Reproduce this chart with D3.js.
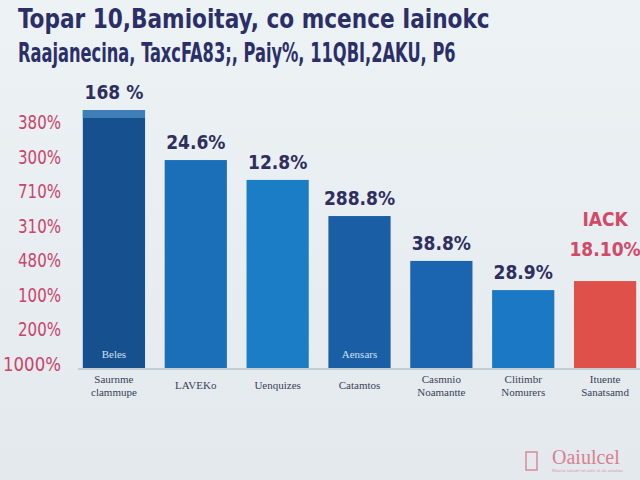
<!DOCTYPE html>
<html>
<head>
<meta charset="utf-8">
<script src="https://cdn.jsdelivr.net/npm/d3@7"></script>
<style>
  body { margin: 0; padding: 0; overflow: hidden; }
  svg { display: block; }
</style>
</head>
<body>
<div id="chart"></div>
<script>
var chart_width = 640;
var chart_height = 480;

// Data
var title_lines = ['Topar 10,Bamioitay, co mcence Iainokc',
                   'Raajanecina, TaxcFA83;, Paiy%, 11QBI,2AKU, P6'];
var categories = ['Saurnme|clammupe', 'LAVEKo', 'Uenquizes', 'Catamtos',
                  'Casmnio|Noamantte', 'Clitimbr|Nomurers', 'Ituente|Sanatsamd'];
var values = [100, 80.6, 72.9, 58.9, 41.5, 30.2, 33.7];
var value_labels = ['168 %', '24.6%', '12.8%', '288.8%', '38.8%', '28.9%', 'IACK|18.10%'];
var inner_labels = ['Beles', '', '', 'Aensars', '', '', ''];
var tick_labels = ['380%', '300%', '710%', '310%', '480%', '100%', '200%', '1000%'];
var bar_colors = ['#17508f', '#1a6fb8', '#1b7dc6', '#1a5ea6', '#1b64b0', '#1b78c4', '#e0504a'];

var svg = d3.select('#chart')
            .append('svg')
            .attr('width', chart_width)
            .attr('height', chart_height);

//Background
var defs = svg.append('defs');
var grad = defs.append('linearGradient')
               .attr('id', 'bg')
               .attr('x1', 0).attr('y1', 0)
               .attr('x2', 0).attr('y2', 1);
grad.append('stop').attr('offset', '0%').attr('stop-color', '#edf2f5');
grad.append('stop').attr('offset', '100%').attr('stop-color', '#e3e9ed');

svg.append('rect')
   .attr('width', chart_width)
   .attr('height', chart_height)
   .attr('fill', 'url(#bg)');

//Title - squeezed horizontally to the reference width
var title_widths = [472, 438];
svg.selectAll('.title')
   .data(title_lines)
   .enter()
   .append('text')
   .attr('class', 'title')
   .attr('x', 0)
   .attr('y', 0)
   .attr('font-family', 'DejaVu Sans Condensed, sans-serif')
   .attr('font-weight', 'bold')
   .attr('font-size', 26)
   .attr('fill', '#2b2f68')
   .text((d) => d)
   .each(function (d, i) {
       var w = this.getComputedTextLength();
       var k = title_widths[i] / w;
       d3.select(this).attr('transform', 'translate(18,' + (28 + i * 34) + ') scale(' + k + ',1)');
   });

//Scales
var x_scale = d3.scaleBand()
                .domain(categories)
                .range([73, 646])
                .paddingInner(0.24)
                .paddingOuter(0.12);

var y_scale = d3.scaleLinear()
                .domain([0, 100])
                .range([368, 110]);

var tick_scale = d3.scalePoint()
                   .domain(tick_labels)
                   .range([122, 364]);

//Y labels
svg.selectAll('.ytick')
   .data(tick_labels)
   .enter()
   .append('text')
   .attr('class', 'ytick')
   .attr('x', 61)
   .attr('y', (d) => tick_scale(d) + 7)
   .attr('text-anchor', 'end')
   .attr('textLength', (d) => d.length > 4 ? 58 : 43)
   .attr('lengthAdjust', 'spacingAndGlyphs')
   .attr('font-family', 'DejaVu Sans Condensed, sans-serif')
   .attr('font-size', 19)
   .attr('fill', '#c8466a')
   .text((d) => d);

//Baseline
svg.append('line')
   .attr('x1', 78).attr('x2', 640)
   .attr('y1', y_scale(0) + 1).attr('y2', y_scale(0) + 1)
   .attr('stroke', '#b8c3cc')
   .attr('stroke-width', 1.5);

//Bars
svg.selectAll('.bar')
   .data(values)
   .enter()
   .append('rect')
   .attr('class', 'bar')
   .attr('x', (d, i) => x_scale(categories[i]))
   .attr('y', (d) => y_scale(d))
   .attr('width', x_scale.bandwidth())
   .attr('height', (d) => y_scale(0) - y_scale(d))
   .attr('fill', (d, i) => bar_colors[i]);

//Light band on top of the first bar
svg.append('rect')
   .attr('x', x_scale(categories[0]))
   .attr('y', y_scale(values[0]))
   .attr('width', x_scale.bandwidth())
   .attr('height', 8)
   .attr('fill', '#3f7fb8');

//Value labels
svg.selectAll('.vlabel')
   .data(values)
   .enter()
   .append('text')
   .attr('class', 'vlabel')
   .attr('x', (d, i) => x_scale(categories[i]) + x_scale.bandwidth() / 2)
   .attr('y', (d) => y_scale(d) - 11)
   .attr('text-anchor', 'middle')
   .attr('font-family', 'DejaVu Sans Condensed, sans-serif')
   .attr('font-weight', 'bold')
   .attr('font-size', 19)
   .attr('fill', (d, i) => i == 6 ? '#d24a68' : '#2e2f5e')
   .each(function (d, i) {
       var parts = value_labels[i].split('|');
       var t = d3.select(this);
       if (parts.length == 1) {
           t.text(parts[0]);
       } else {
           t.attr('y', y_scale(d) - 55);
           parts.forEach((p, j) => {
               t.append('tspan')
                .attr('x', x_scale(categories[i]) + x_scale.bandwidth() / 2)
                .attr('dy', j == 0 ? 0 : 30)
                .text(p);
           });
       }
   });

//Inner labels
svg.selectAll('.ilabel')
   .data(inner_labels)
   .enter()
   .append('text')
   .attr('class', 'ilabel')
   .attr('x', (d, i) => x_scale(categories[i]) + x_scale.bandwidth() / 2)
   .attr('y', y_scale(0) - 10)
   .attr('text-anchor', 'middle')
   .attr('font-family', 'Liberation Serif, serif')
   .attr('font-size', 11)
   .attr('fill', '#cfe0f2')
   .text((d) => d);

//Category labels
svg.selectAll('.xlabel')
   .data(categories)
   .enter()
   .append('text')
   .attr('class', 'xlabel')
   .attr('text-anchor', 'middle')
   .attr('font-family', 'Liberation Serif, serif')
   .attr('font-size', 11)
   .attr('fill', '#3a3f58')
   .each(function (d) {
       var parts = d.split('|');
       var t = d3.select(this);
       var cx = x_scale(d) + x_scale.bandwidth() / 2;
       t.attr('y', parts.length == 1 ? 389 : 383);
       parts.forEach((p, j) => {
           t.append('tspan')
            .attr('x', cx)
            .attr('dy', j == 0 ? 0 : 13)
            .text(p);
       });
   });

//Logo
svg.append('rect')
   .attr('x', 526).attr('y', 452)
   .attr('width', 11).attr('height', 18)
   .attr('fill', 'none')
   .attr('stroke', '#dc8a98')
   .attr('stroke-width', 1.5);

svg.append('text')
   .attr('x', 552).attr('y', 464)
   .attr('font-family', 'Liberation Serif, serif')
   .attr('font-size', 20)
   .attr('fill', '#d9808f')
   .text('Oaiulcel');

svg.append('text')
   .attr('x', 552).attr('y', 472)
   .attr('font-family', 'DejaVu Sans, sans-serif')
   .attr('font-size', 4)
   .attr('fill', '#d9a0aa')
   .text('Mauna sokuel se ualn ul du ueueaa');
</script>
</body>
</html>
